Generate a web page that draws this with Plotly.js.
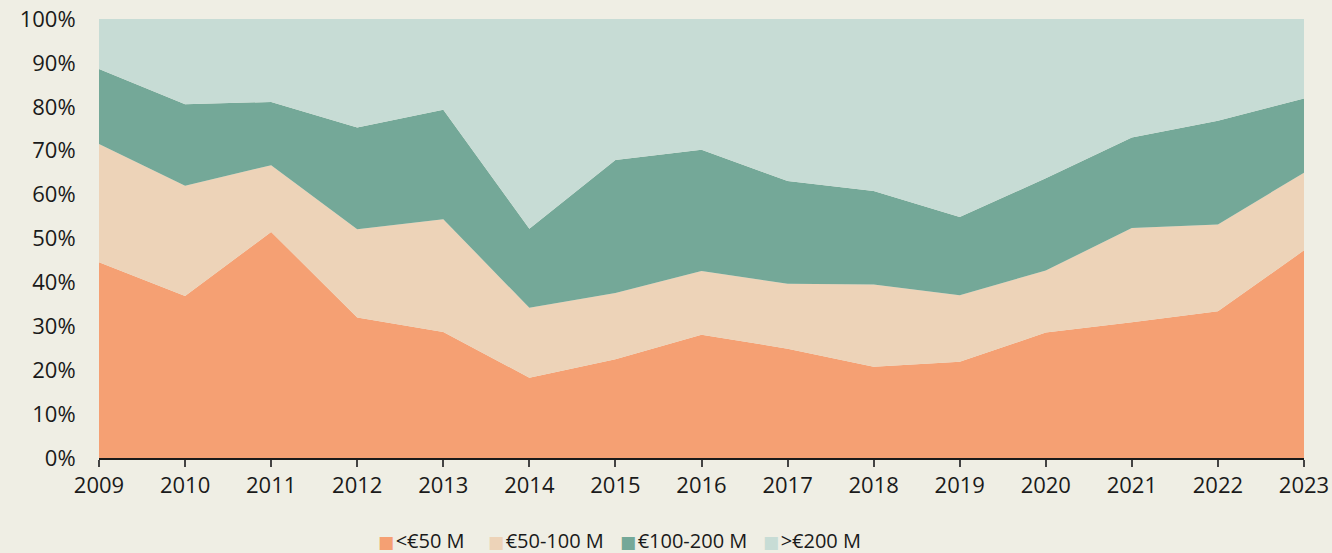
<!DOCTYPE html>
<html>
<head>
<meta charset="utf-8">
<script src="https://cdn.plot.ly/plotly-3.0.1.min.js"></script>
<style>html,body{margin:0;padding:0;background:#EFEEE4;}#chart{width:1332px;height:553px;}</style>
</head>
<body>
<div id="chart"></div>
<script>
const years = ['2009','2010','2011','2012','2013','2014','2015','2016','2017','2018','2019','2020','2021','2022','2023'];
const under50 = [44.6, 36.9, 51.5, 32.0, 28.7, 18.3, 22.5, 28.1, 24.9, 20.8, 21.9, 28.6, 30.9, 33.4, 47.3];
const from50to100 = [26.9, 25.1, 15.2, 20.1, 25.7, 15.9, 15.1, 14.5, 14.8, 18.7, 15.2, 14.1, 21.5, 19.8, 17.7];
const from100to200 = [17.1, 18.6, 14.4, 23.2, 24.9, 18.0, 30.3, 27.6, 23.4, 21.3, 17.8, 21.0, 20.6, 23.6, 16.9];
const over200 = [11.4, 19.4, 18.9, 24.7, 20.7, 47.8, 32.1, 29.8, 36.9, 39.2, 45.1, 36.3, 27.0, 23.2, 18.1];
const seriesNames = ['<€50 M', '€50-100 M', '€100-200 M', '>€200 M'];
const colors = ['#F5A073', '#EDD3B8', '#74A898', '#C7DCD5'];
const values = [under50, from50to100, from100to200, over200];

const traces = values.map((v, i) => ({
  type: 'scatter', mode: 'lines', x: years, y: v, name: seriesNames[i],
  stackgroup: 'one', line: {width: 0, color: colors[i]}, fillcolor: colors[i],
  showlegend: false, hoverinfo: 'skip'
}));

// legend drawn as annotations (coloured square + label)
const legendX = [0.2307, 0.3220, 0.4315, 0.5502];
const esc = s => s.replace(/</g, '&lt;').replace(/>/g, '&gt;');
const annotations = seriesNames.map((n, i) => ({
  xref: 'paper', yref: 'paper', x: legendX[i], y: -0.189, xanchor: 'left', yanchor: 'middle',
  showarrow: false, borderpad: 0,
  text: '<span style="color:' + colors[i] + ';font-family:DejaVu Sans;font-size:17px">■</span>' +
        '<span style="font-size:6px"> </span>' + esc(n),
  font: {size: 20, color: '#1a1a1a'}
}));

const layout = {
  width: 1332, height: 553,
  paper_bgcolor: '#EFEEE4', plot_bgcolor: '#EFEEE4',
  margin: {l: 99, r: 28, t: 19, b: 95, autoexpand: false},
  font: {family: '"Open Sans", Lato, sans-serif', size: 22, color: '#1a1a1a'},
  showlegend: false,
  annotations: annotations,
  xaxis: {type: 'category', showgrid: false, zeroline: false, showline: true, linecolor: '#1a1a1a', linewidth: 2,
          ticks: 'outside', ticklen: 7, tickwidth: 2, tickcolor: '#444', range: [0, 14], automargin: false},
  yaxis: {range: [0, 100], dtick: 10, ticksuffix: '%', showgrid: false, zeroline: false, showline: false,
          ticks: 'outside', ticklen: 18, tickcolor: 'rgba(0,0,0,0)', automargin: false}
};
Plotly.newPlot('chart', traces, layout, {displayModeBar: false, staticPlot: true});
</script>
</body>
</html>
